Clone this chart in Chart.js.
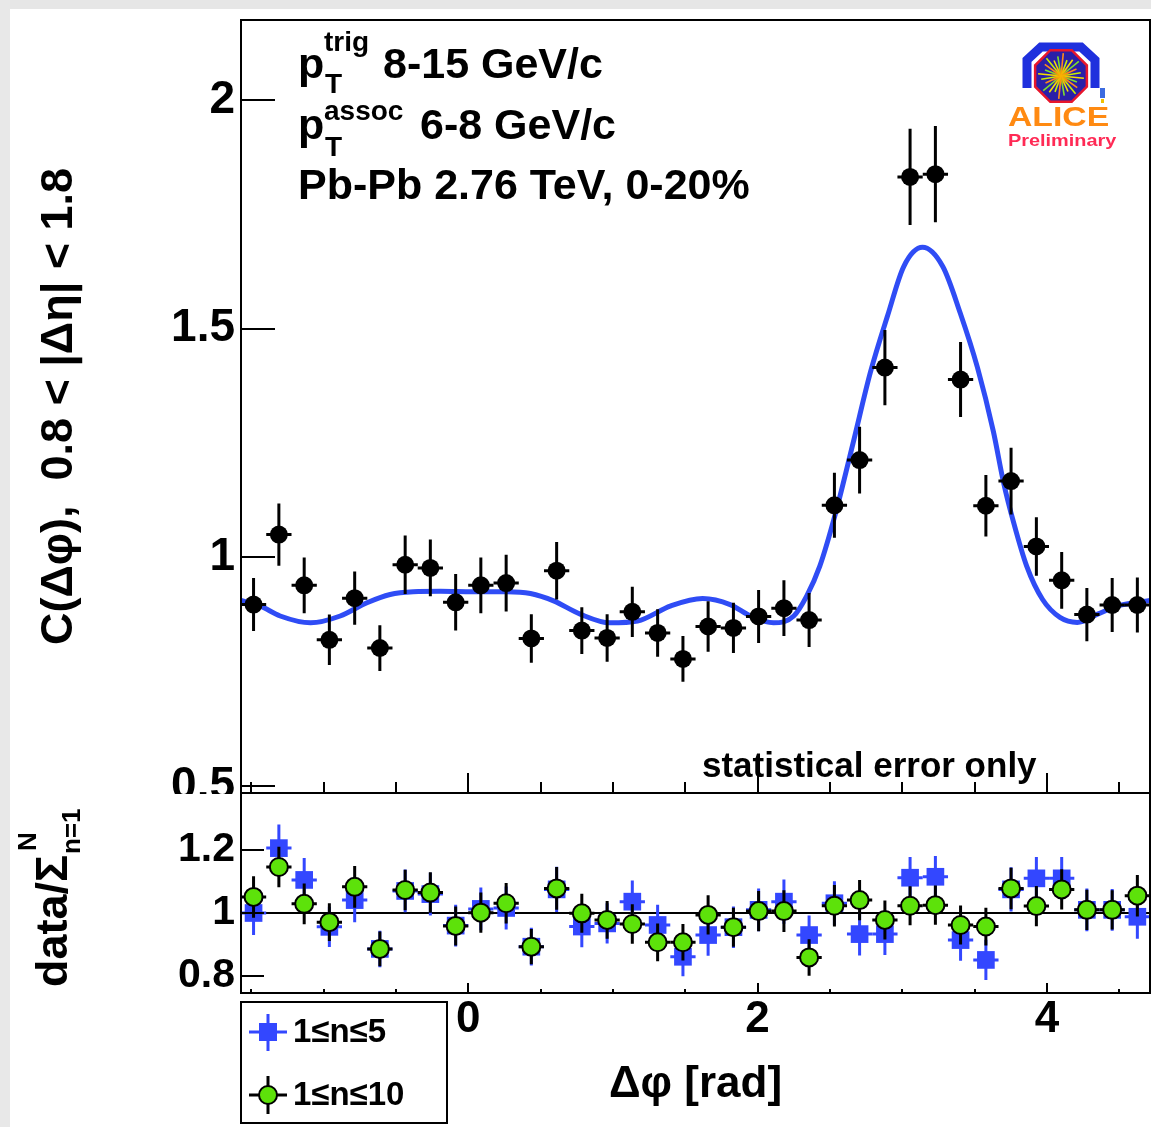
<!DOCTYPE html>
<html><head><meta charset="utf-8">
<script src="https://cdn.jsdelivr.net/npm/chart.js@4.4.1/dist/chart.umd.min.js"></script>
<style>
html,body{margin:0;padding:0;background:#fff;width:1151px;height:1127px;overflow:hidden;position:relative}
#gt{position:absolute;left:0;top:0;width:1151px;height:9px;background:#e6e6e6}
#gl{position:absolute;left:0;top:0;width:10px;height:1127px;background:#e8e8e8}
#c1{position:absolute;left:0;top:0}
#c2{position:absolute;left:0;top:793px}
</style></head><body>
<div id="gt"></div><div id="gl"></div>
<canvas id="c1" width="1151" height="794"></canvas>
<canvas id="c2" width="1151" height="334"></canvas>
<script>
// ---------- data ----------
const dphi = [-1.484,-1.309,-1.134,-0.960,-0.785,-0.611,-0.436,-0.262,-0.087,0.087,0.262,0.436,0.611,0.785,0.960,1.134,1.309,1.484,1.658,1.833,2.007,2.182,2.356,2.531,2.705,2.880,3.054,3.229,3.403,3.578,3.752,3.927,4.102,4.276,4.451,4.625];
const binHalfWidth = 0.0873;
const corr = [0.897,1.050,0.939,0.820,0.911,0.802,0.984,0.977,0.902,0.939,0.944,0.823,0.971,0.840,0.824,0.881,0.835,0.778,0.849,0.846,0.871,0.889,0.863,1.114,1.213,1.415,1.832,1.838,1.389,1.113,1.167,1.024,0.950,0.875,0.896,0.896];
const corrErr = [0.058,0.068,0.061,0.055,0.058,0.050,0.064,0.062,0.062,0.061,0.062,0.053,0.063,0.051,0.052,0.055,0.052,0.050,0.055,0.055,0.058,0.061,0.059,0.071,0.073,0.082,0.105,0.105,0.082,0.067,0.073,0.064,0.062,0.058,0.059,0.060];
const fitPhi = [-1.571,-1.44,-1.30,-1.09,-0.885,-0.70,-0.54,-0.38,-0.19,0.03,0.27,0.43,0.59,0.774,0.98,1.17,1.40,1.62,1.81,1.95,2.11,2.25,2.34,2.43,2.54,2.66,2.78,2.90,3.01,3.14,3.28,3.40,3.52,3.63,3.70,3.77,3.86,3.97,4.09,4.21,4.35,4.49,4.712];
const fitC = [0.906,0.894,0.872,0.857,0.872,0.901,0.919,0.925,0.926,0.925,0.925,0.921,0.905,0.876,0.857,0.861,0.894,0.910,0.897,0.872,0.857,0.872,0.916,0.981,1.098,1.250,1.405,1.530,1.636,1.678,1.636,1.535,1.415,1.275,1.164,1.076,0.981,0.908,0.869,0.858,0.876,0.894,0.906];
const ratio10 = [1.051,1.146,1.029,0.971,1.083,0.886,1.073,1.065,0.959,1.001,1.031,0.893,1.078,0.999,0.978,0.965,0.907,0.907,0.994,0.955,1.006,1.006,0.859,1.023,1.041,0.978,1.023,1.025,0.962,0.957,1.078,1.022,1.075,1.010,1.010,1.055];
const ratio10Err = [0.066,0.064,0.065,0.060,0.066,0.055,0.064,0.064,0.062,0.064,0.064,0.056,0.068,0.062,0.060,0.063,0.060,0.058,0.062,0.062,0.064,0.066,0.058,0.066,0.064,0.062,0.062,0.062,0.062,0.060,0.066,0.064,0.064,0.064,0.062,0.066];
const ratio5 = [1.000,1.206,1.105,0.956,1.041,0.886,1.070,1.060,0.960,1.013,1.016,0.893,1.075,0.957,0.967,1.036,0.962,0.861,0.930,0.955,1.010,1.036,0.930,1.031,0.933,0.933,1.112,1.115,0.914,0.851,1.075,1.110,1.110,1.010,1.010,0.988];
const ratio5Err = [0.070,0.075,0.070,0.064,0.070,0.058,0.068,0.068,0.066,0.068,0.068,0.060,0.072,0.066,0.064,0.067,0.064,0.062,0.066,0.066,0.068,0.070,0.062,0.070,0.068,0.066,0.066,0.066,0.066,0.064,0.070,0.068,0.068,0.068,0.066,0.070];
const upperTicks = [0.5, 1, 1.5, 2];
const ratioTicks = [0.8, 1, 1.2];
const xLabelTicks = [0, 2, 4];
const xTickMarks = [-1.5,-1,-0.5,0,0.5,1,1.5,2,2.5,3,3.5,4,4.5];
const legendLabels = ['1\u2264n\u22645', '1\u2264n\u226410'];

// ---------- style ----------
const FONT = '"Liberation Sans", Arial, Helvetica, sans-serif';
const X_MIN = -Math.PI/2, X_MAX = 3*Math.PI/2;
const BLUE_FIT = '#2f4cf5', BLUE_M = '#3347ff', GREEN_M = '#5de20a';

function zeroPad(s){ s.paddingTop = 0; s.paddingBottom = 0; s.paddingLeft = 0; s.paddingRight = 0; }

const errPlugin = {
  id:'errbars',
  beforeDatasetDraw(chart, args){
    const ds = chart.data.datasets[args.index];
    if(!ds.errY) return;
    const {ctx, chartArea:a, scales:{x:xs, y:ys}} = chart;
    ctx.save();
    ctx.beginPath(); ctx.rect(a.left, a.top, a.right-a.left, a.bottom-a.top); ctx.clip();
    ctx.strokeStyle = ds.errColor; ctx.lineWidth = 3;
    ds.data.forEach((p,i)=>{
      const px = xs.getPixelForValue(p.x), py = ys.getPixelForValue(p.y), e = ds.errY[i];
      ctx.beginPath();
      ctx.moveTo(px, ys.getPixelForValue(p.y+e)); ctx.lineTo(px, ys.getPixelForValue(p.y-e));
      ctx.moveTo(xs.getPixelForValue(p.x-binHalfWidth), py); ctx.lineTo(xs.getPixelForValue(p.x+binHalfWidth), py);
      ctx.stroke();
    });
    ctx.restore();
  }
};

function txt(ctx, s, x, y, size, color, weight){
  ctx.font = (weight||'bold') + ' ' + size + 'px ' + FONT;
  ctx.fillStyle = color || '#000';
  ctx.fillText(s, x, y);
  return ctx.measureText(s).width;
}

function drawLogo(ctx){
  ctx.save();
  const cx = 1061, cy = 76;
  ctx.strokeStyle = '#1f30dd'; ctx.lineWidth = 9; ctx.lineJoin='miter';
  ctx.beginPath();
  ctx.moveTo(1027,88); ctx.lineTo(1027,60); ctx.lineTo(1041,47); ctx.lineTo(1081,47); ctx.lineTo(1095,60); ctx.lineTo(1095,88);
  ctx.stroke();
  ctx.beginPath();
  for(let k=0;k<8;k++){const an = Math.PI/8 + k*Math.PI/4; const px = cx+28*Math.cos(an), py = cy+28*Math.sin(an); k?ctx.lineTo(px,py):ctx.moveTo(px,py);}
  ctx.closePath(); ctx.fillStyle='#2a1fa8'; ctx.fill(); ctx.strokeStyle='#e8162c'; ctx.lineWidth=2.5; ctx.stroke();
  const cols = ['#f5e000','#7ee02a','#ff8a1a','#c8f000'];
  ctx.lineWidth = 1.6;
  for(let k=0;k<24;k++){
    const an = k*Math.PI/12 + 0.1; const L = (k%3===0)?23:(k%3===1?17:20);
    ctx.strokeStyle = cols[k%4];
    ctx.beginPath(); ctx.moveTo(cx,cy); ctx.lineTo(cx+L*Math.cos(an), cy+L*Math.sin(an)); ctx.stroke();
  }
  const g = ctx.createRadialGradient(cx,cy,0,cx,cy,10); g.addColorStop(0,'#ffb000'); g.addColorStop(1,'rgba(255,120,0,0)');
  ctx.fillStyle = g; ctx.beginPath(); ctx.arc(cx,cy,10,0,2*Math.PI); ctx.fill();
  ctx.fillStyle='#3c6be0'; ctx.fillRect(1100,88,5,10); ctx.fillStyle='#f0c000'; ctx.fillRect(1101,99,3,4);
  ctx.save(); ctx.translate(1008,126); ctx.scale(1.25,1);
  txt(ctx,'ALICE',0,0,27,'#ff8a12','bold'); ctx.restore();
  ctx.save(); ctx.translate(1008,146); ctx.scale(1.17,1);
  txt(ctx,'Preliminary',0,0,17,'#ff2a55','bold'); ctx.restore();
  ctx.restore();
}

const upperDeco = {
  id:'upperDeco',
  afterDraw(chart){
    const {ctx, chartArea:a, scales:{x:xs, y:ys}} = chart;
    ctx.save();
    ctx.strokeStyle='#000'; ctx.lineWidth=2;
    ctx.strokeRect(a.left, a.top, a.right-a.left, a.bottom-a.top);
    ctx.beginPath();
    upperTicks.forEach(v=>{const y=Math.round(ys.getPixelForValue(v)); ctx.moveTo(a.left,y); ctx.lineTo(a.left+34,y);});
    xTickMarks.forEach(v=>{const x=Math.round(xs.getPixelForValue(v)); const L = xLabelTicks.includes(v)?20:11; ctx.moveTo(x,a.bottom); ctx.lineTo(x,a.bottom-L);});
    ctx.stroke();
    ctx.textAlign='left'; ctx.textBaseline='alphabetic';
    txt(ctx,'p',298,78,43); txt(ctx,'trig',324,51,28); txt(ctx,'T',325,93,28);
    txt(ctx,'8-15 GeV/c',383,78,43);
    txt(ctx,'p',298,139,43); txt(ctx,'assoc',324,120,28); txt(ctx,'T',325,156,28);
    txt(ctx,'6-8 GeV/c',420,139,43);
    txt(ctx,'Pb-Pb 2.76 TeV, 0-20%',298,199,43);
    txt(ctx,'statistical error only',702,777,35);
    drawLogo(ctx);
    ctx.restore();
  }
};

const lowerDeco = {
  id:'lowerDeco',
  beforeDatasetsDraw(chart){
    const {ctx, chartArea:a, scales:{y:ys}} = chart;
    ctx.save(); ctx.strokeStyle='#000'; ctx.lineWidth=2;
    const y1 = Math.round(ys.getPixelForValue(1));
    ctx.beginPath(); ctx.moveTo(a.left,y1); ctx.lineTo(a.right,y1); ctx.stroke();
    ctx.restore();
  },
  afterDraw(chart){
    const {ctx, chartArea:a, scales:{x:xs, y:ys}} = chart;
    ctx.save();
    ctx.strokeStyle='#000'; ctx.lineWidth=2;
    ctx.strokeRect(a.left, a.top, a.right-a.left, a.bottom-a.top);
    ctx.beginPath();
    ratioTicks.forEach(v=>{const y=Math.round(ys.getPixelForValue(v)); ctx.moveTo(a.left,y); ctx.lineTo(a.left+23,y);});
    xTickMarks.forEach(v=>{const x=Math.round(xs.getPixelForValue(v)); const L = xLabelTicks.includes(v)?10:4; ctx.moveTo(x,a.bottom); ctx.lineTo(x,a.bottom-L);});
    ctx.stroke();
    ctx.save(); ctx.translate(67,194); ctx.rotate(-Math.PI/2);
    ctx.textAlign='left'; ctx.textBaseline='alphabetic';
    const w = txt(ctx,'data/\u03A3',0,0,45);
    txt(ctx,'N',w+4,-31,26); txt(ctx,'n=1',w+1,13,26);
    ctx.restore();
    ctx.strokeRect(241,209,206,121);
    ctx.strokeStyle=BLUE_M; ctx.lineWidth=3;
    ctx.beginPath(); ctx.moveTo(268,221); ctx.lineTo(268,258); ctx.moveTo(249,239); ctx.lineTo(287,239); ctx.stroke();
    ctx.fillStyle=BLUE_M; ctx.fillRect(259,230,18,18);
    ctx.strokeStyle='#000'; ctx.lineWidth=3;
    ctx.beginPath(); ctx.moveTo(268,283); ctx.lineTo(268,321); ctx.moveTo(249,302); ctx.lineTo(287,302); ctx.stroke();
    ctx.beginPath(); ctx.arc(268,302,9,0,2*Math.PI); ctx.fillStyle=GREEN_M; ctx.fill(); ctx.lineWidth=2; ctx.stroke();
    ctx.textAlign='left'; ctx.textBaseline='middle';
    txt(ctx,legendLabels[0],293,240,33); txt(ctx,legendLabels[1],293,303,33);
    ctx.restore();
  }
};

const tickFont = (s)=>({family:FONT, size:s, weight:'bold'});

new Chart(document.getElementById('c1'), {
  type:'scatter',
  data:{datasets:[
    {label:'C', data: dphi.map((x,i)=>({x, y:corr[i]})), errY: corrErr, errColor:'#000',
     pointRadius:9, pointHoverRadius:9, pointBackgroundColor:'#000', pointBorderWidth:0},
    {type:'line', label:'fit', data: fitPhi.map((x,i)=>({x, y:fitC[i]})), borderColor:BLUE_FIT, borderWidth:5,
     pointRadius:0, fill:false, cubicInterpolationMode:'monotone'}
  ]},
  options:{
    responsive:false, animation:false, devicePixelRatio:1,
    layout:{autoPadding:false, padding:{left:0, top:20, right:1, bottom:1}},
    plugins:{legend:{display:false}, tooltip:{enabled:false}},
    scales:{
      x:{type:'linear', min:X_MIN, max:X_MAX, display:false},
      y:{type:'linear', min:0.485, max:2.175,
         afterBuildTicks:s=>{s.ticks = upperTicks.map(v=>({value:v}));},
         afterFit:s=>{s.width = 241; zeroPad(s);},
         grid:{display:false, drawTicks:false}, border:{display:false},
         ticks:{color:'#000', font:tickFont(46), padding:6, callback:v=>String(v)},
         title:{display:true, text:'C(\u0394\u03C6),  0.8 < |\u0394\u03B7| < 1.8', color:'#000', font:tickFont(45), padding:{top:33, bottom:0}}
      }
    }
  },
  plugins:[errPlugin, upperDeco]
});

new Chart(document.getElementById('c2'), {
  type:'scatter',
  data:{datasets:[
    {label:legendLabels[1], data: dphi.map((x,i)=>({x, y:ratio10[i]})), errY: ratio10Err, errColor:'#000',
     pointRadius:9, pointHoverRadius:9, pointBackgroundColor:GREEN_M, pointBorderColor:'#000', pointBorderWidth:2},
    {label:legendLabels[0], data: dphi.map((x,i)=>({x, y:ratio5[i]})), errY: ratio5Err, errColor:BLUE_M,
     pointStyle:'rect', pointRadius:12.5, pointHoverRadius:12.5, pointBackgroundColor:BLUE_M, pointBorderWidth:0}
  ]},
  options:{
    responsive:false, animation:false, devicePixelRatio:1,
    layout:{autoPadding:false, padding:{left:0, top:0, right:1, bottom:0}},
    plugins:{legend:{display:false}, tooltip:{enabled:false}},
    scales:{
      x:{type:'linear', min:X_MIN, max:X_MAX,
         afterBuildTicks:s=>{s.ticks = xLabelTicks.map(v=>({value:v}));},
         afterFit:s=>{s.height = 134; zeroPad(s);},
         grid:{display:false, drawTicks:false}, border:{display:false},
         ticks:{color:'#000', font:tickFont(44), padding:0, maxRotation:0, autoSkip:false, callback:v=>String(v)},
         title:{display:true, text:'\u0394\u03C6 [rad]', color:'#000', font:tickFont(44), padding:{top:0, bottom:16}}
      },
      y:{type:'linear', min:0.746, max:1.381,
         afterBuildTicks:s=>{s.ticks = ratioTicks.map(v=>({value:v}));},
         afterFit:s=>{s.width = 241; zeroPad(s);},
         grid:{display:false, drawTicks:false}, border:{display:false},
         ticks:{color:'#000', font:tickFont(41), padding:6, callback:v=>String(v)}
      }
    }
  },
  plugins:[errPlugin, lowerDeco]
});
</script>
</body></html>
